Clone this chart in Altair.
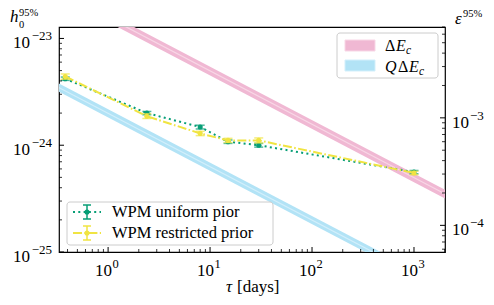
import altair as alt
import pandas as pd

# ---------------- data ----------------
tau_uniform = [0.38, 2.4, 8.0, 15.0, 30.0, 1000.0]
h_uniform = [4.2e-24, 2.0e-24, 1.48e-24, 1.08e-24, 1.0e-24, 5.6e-25]
h_uniform_lo = [4.05e-24, 1.93e-24, 1.42e-24, 1.04e-24, 0.96e-24, 5.4e-25]
h_uniform_hi = [4.35e-24, 2.07e-24, 1.54e-24, 1.12e-24, 1.04e-24, 5.8e-25]

tau_restricted = [0.38, 2.4, 8.0, 15.0, 30.0, 1000.0]
h_restricted = [4.4e-24, 1.87e-24, 1.29e-24, 1.11e-24, 1.11e-24, 5.5e-25]
h_restricted_lo = [4.15e-24, 1.78e-24, 1.23e-24, 1.06e-24, 1.05e-24, 5.3e-25]
h_restricted_hi = [4.65e-24, 1.97e-24, 1.35e-24, 1.16e-24, 1.17e-24, 5.7e-25]

tau_band = [0.3, 2500.0]
dEc_lo = [2.60e-23, 2.85e-25]
dEc_mid = [2.87e-23, 3.14e-25]
dEc_hi = [3.14e-23, 3.44e-25]
QdEc_lo = [3.33e-24, 3.65e-26]
QdEc_mid = [3.63e-24, 3.98e-26]
QdEc_hi = [3.96e-24, 4.34e-26]

x_major = [1, 10, 100, 1000]
x_major_exp = ["0", "1", "2", "3"]
h_major = [1e-25, 1e-24, 1e-23]
h_major_exp = ["\u221225", "\u221224", "\u221223"]
eps_major = [1e-4, 1e-3]
eps_major_exp = ["\u22124", "\u22123"]

X_DOM = [0.33, 2014]
H_DOM = [1e-25, 1.28e-23]
E_DOM = [5.65e-5, 7.0e-3]

x_minor = [m * 10.0 ** e for e in range(-1, 4) for m in range(2, 10)
           if X_DOM[0] <= m * 10.0 ** e <= X_DOM[1]]
h_minor = [m * 10.0 ** e for e in (-25, -24) for m in range(2, 10)]
eps_minor = [m * 10.0 ** e for e in (-5, -4, -3) for m in range(2, 10)
             if E_DOM[0] <= m * 10.0 ** e <= E_DOM[1]]

W, H = 386, 225
FONT = "Liberation Serif"
GREEN = "#079e76"
YELLOW = "#f0e442"
PINK_FILL = "#f0b8d3"
PINK_LINE = "#f8d7e6"
BLUE_FILL = "#b2e3f6"
BLUE_LINE = "#d3effb"

xs = alt.Scale(type="log", domain=X_DOM, nice=False)
hs = alt.Scale(type="log", domain=H_DOM, nice=False)
es = alt.Scale(type="log", domain=E_DOM, nice=False)


def X(f):
    return alt.X(f, type="quantitative", scale=xs, axis=None)


def Y(f, s=hs):
    return alt.Y(f, type="quantitative", scale=s, axis=None)


one = pd.DataFrame({"a": [0]})


def txt(s, x, y, size=15, style="normal", align="left", baseline="alphabetic"):
    return alt.Chart(one).mark_text(
        text=s, font=FONT, fontSize=size, fontStyle=style, align=align,
        baseline=baseline, color="black"
    ).encode(x=alt.value(x), y=alt.value(y))


def hrule(x1, x2, y, color, width=1.5, dash=None):
    kw = dict(color=color, strokeWidth=width)
    if dash:
        kw["strokeDash"] = dash
    return alt.Chart(one).mark_rule(**kw).encode(
        x=alt.value(x1), x2=alt.value(x2), y=alt.value(y))


def vrule(x, y1, y2, color, width=1.5):
    return alt.Chart(one).mark_rule(color=color, strokeWidth=width).encode(
        x=alt.value(x), y=alt.value(y1), y2=alt.value(y2))


# ---------------- bands ----------------
band = pd.DataFrame({"tau": tau_band,
                     "p_lo": dEc_lo, "p_mid": dEc_mid, "p_hi": dEc_hi,
                     "b_lo": QdEc_lo, "b_mid": QdEc_mid, "b_hi": QdEc_hi})
bands = []
for pre, fill, line in (("p", PINK_FILL, PINK_LINE), ("b", BLUE_FILL, BLUE_LINE)):
    bands.append(alt.Chart(band).mark_area(color=fill, opacity=1, clip=True)
                 .encode(x=X("tau"), y=Y(pre + "_lo"), y2=alt.Y2(pre + "_hi")))
    bands.append(alt.Chart(band).mark_line(color=line, strokeWidth=1.2, clip=True)
                 .encode(x=X("tau"), y=Y(pre + "_mid")))

# ---------------- series ----------------
def series(tau, h, lo, hi, color, dash, width):
    df = pd.DataFrame({"tau": tau, "h": h, "lo": lo, "hi": hi})
    base = alt.Chart(df)
    return [
        base.mark_line(color=color, strokeWidth=width, strokeDash=dash).encode(x=X("tau"), y=Y("h")),
        base.mark_rule(color=color, strokeWidth=1.5).encode(x=X("tau"), y=Y("lo"), y2=alt.Y2("hi")),
        base.mark_tick(color=color, orient="horizontal", size=9, thickness=1.5).encode(x=X("tau"), y=Y("lo")),
        base.mark_tick(color=color, orient="horizontal", size=9, thickness=1.5).encode(x=X("tau"), y=Y("hi")),
        base.mark_circle(color=color, size=26, opacity=1).encode(x=X("tau"), y=Y("h")),
    ]

green = series(tau_uniform, h_uniform, h_uniform_lo, h_uniform_hi, GREEN, [2, 3.3], 2)
yellow = series(tau_restricted, h_restricted, h_restricted_lo, h_restricted_hi, YELLOW,
                [9, 2.4, 1.6, 2.4], 2)

# ---------------- ticks & labels ----------------
xt_major = pd.DataFrame({"v": x_major, "e": x_major_exp})
xt_minor = pd.DataFrame({"v": x_minor})
ht_major = pd.DataFrame({"v": h_major, "e": h_major_exp})
ht_minor = pd.DataFrame({"v": h_minor})
et_major = pd.DataFrame({"v": eps_major, "e": eps_major_exp})
et_minor = pd.DataFrame({"v": eps_minor})

axes_h = [
    alt.Chart(xt_major).mark_rule(color="black", strokeWidth=1).encode(
        x=X("v"), y=alt.value(H), y2=alt.value(H - 5)),
    alt.Chart(xt_minor).mark_rule(color="black", strokeWidth=0.8).encode(
        x=X("v"), y=alt.value(H), y2=alt.value(H - 3)),
    alt.Chart(xt_major).mark_text(font=FONT, fontSize=17, align="right", dx=4).encode(
        x=X("v"), y=alt.value(H + 19), text="t:N").transform_calculate(t="'10'"),
    alt.Chart(xt_major).mark_text(font=FONT, fontSize=12.5, align="left", dx=4.5).encode(
        x=X("v"), y=alt.value(H + 12), text="e:N"),
    alt.Chart(ht_major).mark_rule(color="black", strokeWidth=1).encode(
        y=Y("v"), x=alt.value(0), x2=alt.value(5)),
    alt.Chart(ht_minor).mark_rule(color="black", strokeWidth=0.8).encode(
        y=Y("v"), x=alt.value(0), x2=alt.value(3)),
    alt.Chart(ht_major).mark_text(font=FONT, fontSize=17, align="right", dy=5).encode(
        y=Y("v"), x=alt.value(-29), text="t:N").transform_calculate(t="'10'"),
    alt.Chart(ht_major).mark_text(font=FONT, fontSize=13, align="right", dy=-2).encode(
        y=Y("v"), x=alt.value(-7), text="e:N"),
]

axes_e = [
    alt.Chart(et_major).mark_rule(color="black", strokeWidth=1).encode(
        y=Y("v", es), x=alt.value(W - 5), x2=alt.value(W)),
    alt.Chart(et_minor).mark_rule(color="black", strokeWidth=0.8).encode(
        y=Y("v", es), x=alt.value(W - 3), x2=alt.value(W)),
    alt.Chart(et_major).mark_text(font=FONT, fontSize=17, align="left", dy=5).encode(
        y=Y("v", es), x=alt.value(W + 7), text="t:N").transform_calculate(t="'10'"),
    alt.Chart(et_major).mark_text(font=FONT, fontSize=13, align="left", dy=-2).encode(
        y=Y("v", es), x=alt.value(W + 25), text="e:N"),
]

# ---------------- titles ----------------
titles = [
    txt("h", -49, -5, 17, "italic"),
    txt("0", -40, 1, 10.5),
    txt("95%", -40, -11, 10.5),
    txt("\u03b5", 396, -3, 17, "italic"),
    txt("95%", 404, -10, 10.5),
    txt("\u03c4", 173, 265, 17, "italic", align="right"),
    txt("[days]", 178, 265, 17),
]

# ---------------- legends ----------------
def box(x1, x2, y1, y2):
    return alt.Chart(one).mark_rect(fill="white", fillOpacity=0.8, stroke="#cccccc",
                                    strokeWidth=1, cornerRadius=3).encode(
        x=alt.value(x1), x2=alt.value(x2), y=alt.value(y1), y2=alt.value(y2))


def swatch(x1, x2, y1, y2, fill, line):
    return alt.Chart(one).mark_rect(fill=fill, stroke=line, strokeWidth=1).encode(
        x=alt.value(x1), x2=alt.value(x2), y=alt.value(y1), y2=alt.value(y2))


legend_tr = [
    box(278, 379, 6, 51),
    swatch(286, 316, 13, 24, PINK_FILL, PINK_LINE),
    swatch(286, 316, 33, 44, BLUE_FILL, BLUE_LINE),
    txt("\u0394", 326, 24, 16),
    txt("E", 337, 24, 16, "italic"),
    txt("c", 347, 27, 11.5, "italic"),
    txt("Q", 326, 45, 16, "italic"),
    txt("\u0394", 339, 45, 16),
    txt("E", 350, 45, 16, "italic"),
    txt("c", 360, 48, 11.5, "italic"),
]


def glyph(yc, color, dash):
    return [
        hrule(14, 42, yc, color, 2, dash),
        vrule(28, yc - 7, yc + 7, color, 1.5),
        hrule(24, 32, yc - 7, color, 1.5),
        hrule(24, 32, yc + 7, color, 1.5),
        alt.Chart(one).mark_circle(color=color, size=26, opacity=1).encode(
            x=alt.value(28), y=alt.value(yc)),
    ]


legend_bl = [box(8, 214, 175, 218)] + glyph(185, GREEN, [2, 3.3]) + glyph(206, YELLOW, [9, 2.4, 1.6, 2.4]) + [
    txt("WPM uniform pior", 53, 190, 16.5),
    txt("WPM restricted prior", 53, 211, 16.5),
]

h_layer = alt.layer(*(bands + green + yellow + axes_h + titles + legend_tr + legend_bl))
e_layer = alt.layer(*axes_e)

chart = alt.layer(h_layer, e_layer).resolve_scale(y="independent").properties(
    width=W, height=H,
    autosize=alt.AutoSizeParams(type="none"),
    padding={"left": 51, "top": 19, "right": 41, "bottom": 45},
    background="white",
).configure_view(stroke="black", strokeWidth=1.2)

chart.save("out.html", embed_options={"renderer": "svg", "actions": False})
